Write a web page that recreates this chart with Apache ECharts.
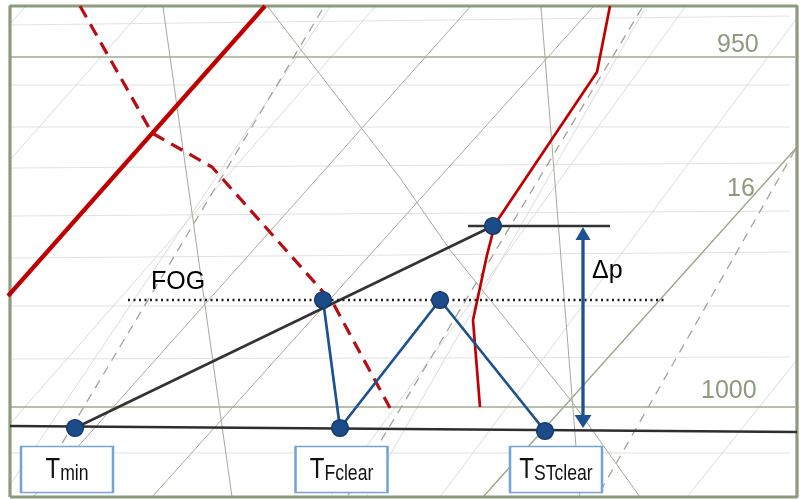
<!DOCTYPE html>
<html>
<head>
<meta charset="utf-8">
<script src="https://cdn.jsdelivr.net/npm/echarts@6/dist/echarts.min.js"></script>
<style>
  html, body { margin: 0; padding: 0; background: #fff; }
  #chart { width: 800px; height: 499px; }
</style>
</head>
<body>
<div id="chart"></div>
<script>
// Diagram space: x runs 0..800 left to right, y runs 0..499 top to bottom.

// Isobars: [y at left edge, y at right edge]
const isobarsLight = [[25, 16], [85, 85], [127, 127], [168, 163], [216, 211], [258, 252], [306, 306], [359, 357], [453, 453]];
const isobarsMain = [57, 407];
const isobarLabels = [
  { text: '950', x: 717, y: 58 },
  { text: '1000', x: 701, y: 404 }
];
const mixLabel = { text: '16', x: 727, y: 202 };

// Background reference lines of the thermodynamic diagram
const isothermsLight = [
  [[25, 7], [10, 24]],
  [[145, 7], [10, 160]],
  [[375, 7], [10, 424]],
  [[330, 7], [10, 485]],
  [[644, 10], [366, 497]],
  [[685, 7], [330, 497]],
  [[797, 18], [440, 497]],
  [[797, 360], [687, 497]]
];
const isothermsMain = [
  [[470, 7], [33, 497]],
  [[593, 7], [152, 497]]
];
const line16 = [[797, 147], [483, 497]];
const adiabats = [
  [[268, 7], [400, 178], [450, 250], [573, 403], [640, 497]]
];
const verticals = [
  [[163, 7], [232, 497]],
  [[541, 7], [580, 497]]
];
const mixingRatio = [
  [[322, 10], [40, 480]],
  [[642, 8], [347, 497]],
  [[795, 150], [597, 497]]
];

// Soundings
const thickRed = [[8, 296], [265, 6]];
const dewCurve = [[80, 6], [152, 133], [212, 167], [333, 303], [390, 408]];
const tempCurve = [[610, 6], [597, 72], [495, 224], [487, 255], [473, 320], [480, 407]];

// Construction lines
const surfaceLine = [[10, 426], [797, 432]];
const liftLine = [[75, 428], [493, 226]];
const topLevel = [[468, 226], [610, 226]];
const fogLevel = [[128, 300], [665, 300]];
const blueZigzag = [[323, 300], [340, 428], [440, 300], [545, 431]];
const keyPoints = [[75, 428], [323, 300], [340, 428], [440, 300], [545, 431], [493, 226]];
const deltaP = { x: 583, top: 227, bottom: 428 };

// Labels
const boxes = [
  { x: 67, y: 469.5, main: 'T', sub: 'min' },
  { x: 341.5, y: 469.5, main: 'T', sub: 'Fclear' },
  { x: 556, y: 469.5, main: 'T', sub: 'STclear' }
];
const notes = [
  { text: 'FOG', x: 151, y: 295 },
  { text: 'Δp', x: 592, y: 284 }
];

const frameColor = '#8c9a7d';
const series = [];

function segLine(data, color, width, type, z) {
  series.push({
    type: 'line', data: data, symbol: 'none', silent: true, z: z || 1,
    lineStyle: { color: color, width: width, type: type || 'solid', cap: 'butt', opacity: 1 },
    animation: false
  });
}

isobarsLight.forEach(function (p) { segLine([[11, p[0]], [790, p[1]]], '#e2e2e2', 1.2, 'solid', 1); });
isothermsLight.forEach(function (s) { segLine(s, '#dcdcdc', 1, 'solid', 1); });
isothermsMain.forEach(function (s) { segLine(s, '#a9ac9f', 1, 'solid', 2); });
segLine(line16, '#97a588', 1.3, 'solid', 2);
adiabats.forEach(function (s) { segLine(s, '#a6a99d', 1, 'solid', 2); });
verticals.forEach(function (s) { segLine(s, '#a6a99d', 1, 'solid', 2); });
mixingRatio.forEach(function (s) { segLine(s, '#a0a596', 1.3, [9, 7], 2); });
isobarsMain.forEach(function (y) { segLine([[11, y], [795, y]], '#a0ab92', 1.7, 'solid', 2); });

// frame
segLine([[10, 497], [10, 6], [797, 6], [797, 497], [10, 497]], frameColor, 3.2, 'solid', 3);

segLine(thickRed, '#c00000', 4.2, 'solid', 5);
segLine(dewCurve, '#b80d12', 3.2, [13, 8], 5);
segLine(tempCurve, '#c00000', 2.7, 'solid', 5);

segLine(surfaceLine, '#2e2e2e', 2.7, 'solid', 6);
segLine(liftLine, '#333333', 2.6, 'solid', 6);
segLine(topLevel, '#333333', 2.7, 'solid', 6);
segLine(fogLevel, '#1e1e1e', 2.7, [2, 3.5], 6);
segLine(blueZigzag, '#1d5190', 2.7, 'solid', 7);

// Δp arrow
segLine([[deltaP.x, deltaP.top + 12], [deltaP.x, deltaP.bottom - 12]], '#1d5190', 3.3, 'solid', 7);
series.push({
  type: 'scatter', z: 7, silent: true, animation: false,
  data: [
    { value: [deltaP.x, deltaP.top + 6.5], symbolRotate: 0, symbolSize: [15, 13] },
    { value: [deltaP.x, deltaP.bottom - 6.5], symbolRotate: 180, symbolSize: [17, 13] }
  ],
  symbol: 'triangle',
  itemStyle: { color: '#1d5190', opacity: 1 }
});

// key points
series.push({
  type: 'scatter', z: 8, silent: true, animation: false,
  data: keyPoints, symbol: 'circle', symbolSize: 17,
  itemStyle: { color: '#1b4b88', borderColor: '#12355f', borderWidth: 1.2, opacity: 1 }
});

// label boxes
const boxSeriesIndex = series.length;
series.push({
  type: 'scatter', z: 9, silent: true, animation: false,
  data: boxes.map(function (b) { return [b.x, b.y]; }),
  symbol: 'rect', symbolSize: [92, 46],
  itemStyle: { color: '#ffffff', borderColor: '#74a4d2', borderWidth: 1.8, opacity: 1 }
});

// free text
function textMarks(items, color, size, z) {
  series.push({
    type: 'scatter', z: z, silent: true, animation: false,
    data: items.map(function (t) { return { value: [t.x, t.y], name: t.text }; }),
    symbolSize: 0,
    itemStyle: { opacity: 1 },
    label: {
      show: true, position: [0, 0], align: 'left', verticalAlign: 'bottom',
      formatter: '{b}', color: color, fontSize: size, opacity: 1,
      fontFamily: '"Liberation Sans", Arial, sans-serif'
    }
  });
}
textMarks(notes, '#000000', 25, 10);
textMarks(isobarLabels, '#8c9a7d', 25, 10);
textMarks([mixLabel], '#8c9a7d', 25, 10);

const chart = echarts.init(document.getElementById('chart'), null, { renderer: 'canvas' });
chart.setOption({
  animation: false,
  backgroundColor: '#ffffff',
  grid: { left: 0, right: 0, top: 0, bottom: 0 },
  xAxis: { type: 'value', min: 0, max: 800, show: false },
  yAxis: { type: 'value', min: 0, max: 499, inverse: true, show: false },
  series: series
});

// Box captions: T with subscript, set in a condensed face
const captionFont = '"Liberation Sans", Arial, sans-serif';
chart.setOption({
  graphic: boxes.map(function (b) {
    const c = chart.convertToPixel({ seriesIndex: boxSeriesIndex }, [b.x, b.y]);
    return {
      type: 'text', x: c[0], y: c[1], scaleX: 0.8, z: 100, silent: true,
      style: {
        text: '{t|' + b.main + '}{s|' + b.sub + '}',
        align: 'center', verticalAlign: 'middle',
        rich: {
          t: { fontFamily: captionFont, fontSize: 30, fill: '#111', lineHeight: 30, verticalAlign: 'bottom' },
          s: { fontFamily: captionFont, fontSize: 22, fill: '#111', lineHeight: 30, verticalAlign: 'bottom' }
        }
      }
    };
  })
});
</script>
</body>
</html>
